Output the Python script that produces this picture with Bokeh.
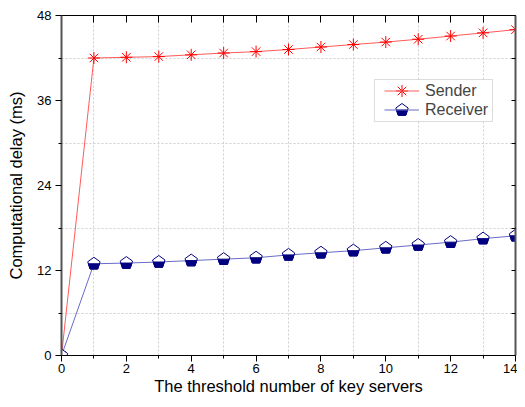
import numpy as np
from bokeh.plotting import figure
from bokeh.models import (Range1d, FixedTicker, LinearAxis, Legend, LegendItem,
                          BoxAnnotation)
from bokeh.embed import file_html
from bokeh.resources import INLINE

# ---- data ----
servers = list(range(15))
sender_ms = [0, 42.0, 42.1, 42.2, 42.45, 42.7, 42.9, 43.2, 43.55, 43.9, 44.25,
             44.65, 45.1, 45.55, 46.0]
receiver_ms = [0, 12.95, 13.05, 13.2, 13.4, 13.6, 13.8, 14.2, 14.5, 14.8, 15.2,
               15.6, 16.0, 16.5, 16.9]
x_major = [0, 2, 4, 6, 8, 10, 12, 14]
x_minor = [1, 3, 5, 7, 9, 11, 13]
y_major = [0, 12, 24, 36, 48]
y_minor = [6, 18, 30, 42]

FONT = "Liberation Sans"
W, H = 517, 399
BL, BT, BR, BB = 61, 15, 2, 44
FW, FH = W - BL - BR, H - BT - BB
XMAX, YMAX = 14, 48

p = figure(width=W, height=H, x_range=Range1d(0, XMAX), y_range=Range1d(0, YMAX),
           output_backend="svg", toolbar_location=None,
           min_border_left=BL, min_border_right=BR, min_border_top=BT,
           min_border_bottom=BB)
p.outline_line_color = "black"
p.outline_line_width = 1

# axes
xa = p.xaxis[0]
xa.ticker = FixedTicker(ticks=x_major, minor_ticks=x_minor)
xa.axis_label = "The threshold number of key servers"
ya = p.yaxis[0]
ya.ticker = FixedTicker(ticks=y_major, minor_ticks=y_minor)
ya.axis_label = "Computational delay (ms)"
for ax in (xa, ya):
    ax.major_tick_in = 0
    ax.major_tick_out = 6
    ax.minor_tick_in = 0
    ax.minor_tick_out = 3
    ax.major_label_text_font = FONT
    ax.major_label_text_font_size = "13px"
    ax.major_label_text_color = "black"
    ax.axis_label_text_font = FONT
    ax.axis_label_text_font_size = "16.5px"
    ax.axis_label_text_font_style = "normal"
    ax.axis_label_text_color = "black"
    ax.major_tick_line_color = "black"
    ax.minor_tick_line_color = "black"
xa.major_label_standoff = 2
xa.axis_label_standoff = 1
ya.major_label_standoff = 4
ya.axis_label_standoff = 9
xa.axis_line_color = "black"
ya.axis_line_color = "#555555"
ya.axis_line_width = 2

# mirror axes: ticks only, no labels
top = LinearAxis(ticker=FixedTicker(ticks=x_major + x_minor), major_tick_in=7,
                 major_tick_out=0, minor_tick_line_color=None,
                 major_label_text_font_size="1px", major_label_text_color=None,
                 major_label_standoff=0, axis_line_color="black")
right = LinearAxis(ticker=FixedTicker(ticks=y_major, minor_ticks=y_minor),
                   major_tick_in=4, major_tick_out=0, minor_tick_in=4,
                   minor_tick_out=0, major_label_text_font_size="1px",
                   major_label_text_color=None, major_label_standoff=0,
                   axis_line_color="#555555", axis_line_width=2)
p.add_layout(top, "above")
p.add_layout(right, "right")

# grid at minor positions, dotted
p.xgrid.ticker = FixedTicker(ticks=x_major, minor_ticks=x_minor)
p.ygrid.ticker = FixedTicker(ticks=y_major, minor_ticks=y_minor)
for g in (p.xgrid, p.ygrid):
    g.grid_line_color = None
    g.minor_grid_line_color = "#cfcfcf"
    g.minor_grid_line_dash = "2 2"
    g.minor_grid_line_width = 1

# conversion of pixel offsets to data units
SX, SY = XMAX / FW, YMAX / FH

# legend geometry (frame pixels)
LX, LY = 321, 234
PAD, GW, GH, SP = 2, 35, 19, 0
LH = 2 * PAD + 2 * GH + SP
box = BoxAnnotation(left=(LX - 8) * SX, right=(LX + 110) * SX,
                    bottom=LY * SY, top=(LY + LH) * SY,
                    fill_color="white", fill_alpha=1.0,
                    line_color="#8a8a8a", line_width=1, level="underlay")
p.add_layout(box)

# series
s_line = p.line(servers, sender_ms, line_color="#ff5a5a", line_width=1)
r_line = p.line(servers, receiver_ms, line_color="#6a6ac8", line_width=1)
p.scatter(servers, sender_ms, marker="asterisk", size=12, line_color="#ff0000",
          line_width=1)

R = 6.5
ang = np.deg2rad([0, 72, 144, 216, 288])
pent_dx, pent_dy = R * np.sin(ang), R * np.cos(ang)
# lower half of pentagon (below centre)
t = np.cos(ang[1]) / (np.cos(ang[1]) - np.cos(ang[2]))
xc = R * np.sin(ang[1]) - t * (R * np.sin(ang[1]) - R * np.sin(ang[2]))
low_dx = np.array([xc, pent_dx[2], pent_dx[3], -xc])
low_dy = np.array([0, pent_dy[2], pent_dy[3], 0])


def pentagons(xs, ys):
    full_x = [list(x + pent_dx * SX) for x in xs]
    full_y = [list(y + pent_dy * SY) for y in ys]
    low_x = [list(x + low_dx * SX) for x in xs]
    low_y = [list(y + low_dy * SY) for y in ys]
    p.patches(full_x, full_y, fill_color="white", line_color="#000080", line_width=1)
    p.patches(low_x, low_y, fill_color="#000080", line_color="#000080", line_width=1)


pentagons(servers, receiver_ms)

# legend markers
gx = (LX + PAD + GW / 2) * SX
gy0 = (LY + LH - PAD - GH / 2) * SY
gy1 = (LY + LH - PAD - GH - SP - GH / 2) * SY
p.scatter([gx], [gy0], marker="asterisk", size=12, line_color="#ff0000",
          line_width=1)
pentagons([gx], [gy1])

legend = Legend(items=[LegendItem(label="Sender", renderers=[s_line]),
                       LegendItem(label="Receiver", renderers=[r_line])],
                location=(LX, LY), padding=PAD, spacing=SP, glyph_width=GW,
                glyph_height=GH, label_standoff=6, margin=0,
                background_fill_alpha=0, border_line_alpha=0,
                label_text_font=FONT, label_text_font_size="16px",
                label_height=GH)
p.add_layout(legend, "center")

open("out.html", "w").write(file_html(p, INLINE))
